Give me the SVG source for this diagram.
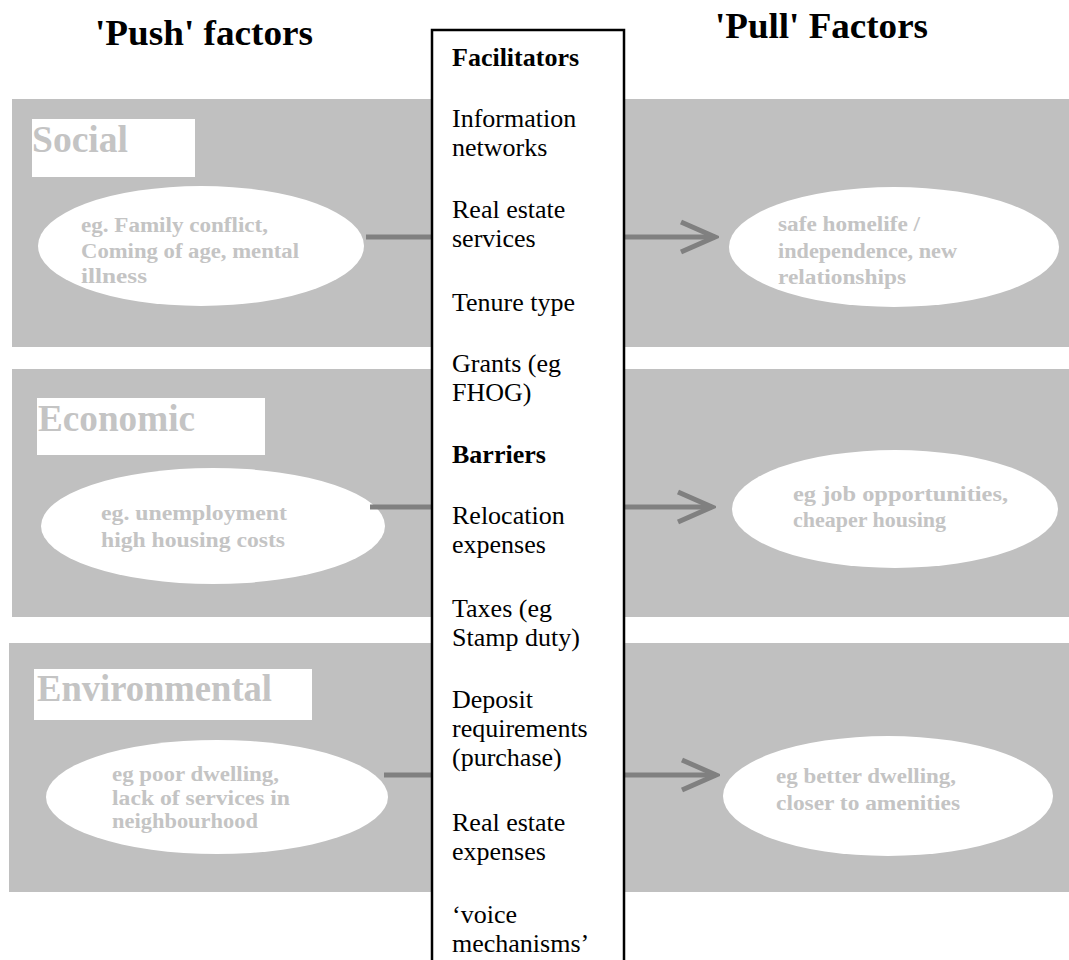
<svg xmlns="http://www.w3.org/2000/svg" width="1069" height="960" viewBox="0 0 1069 960">
<style>
.band{fill:#c0c0c0}
.lbl{fill:#ffffff}
.lt{font-family:"Liberation Serif",serif;font-weight:bold;font-size:38px;fill:#c4c4c4}
.ell{fill:#ffffff}
.et{font-family:"Liberation Serif",serif;font-weight:bold;font-size:20px;fill:#c4c4c4}
.title{font-family:"Liberation Serif",serif;font-weight:bold;font-size:35px;fill:#000000}
.bt{font-family:"Liberation Serif",serif;font-size:26px;fill:#000000}
.bb{font-weight:bold}
.conn{stroke:#808080;stroke-width:5;fill:none}
</style>
<defs>
<marker id="chev" viewBox="-40 -20 44 40" refX="0" refY="0" markerWidth="44" markerHeight="40" markerUnits="userSpaceOnUse" orient="auto">
<path d="M -34 -15 L 0 0 L -34 15" stroke="#808080" stroke-width="5" fill="none" stroke-linejoin="miter"/>
</marker>
</defs>
<rect width="1069" height="960" fill="#ffffff"/>
<g id="titles">
<text class="title" x="95" y="45" textLength="218" lengthAdjust="spacingAndGlyphs">'Push' factors</text>
<text class="title" x="715" y="38" textLength="213" lengthAdjust="spacingAndGlyphs">'Pull' Factors</text>
</g>
<g id="band-social">
<rect class="band" x="12" y="99" width="1057" height="248"/>
<rect class="lbl" x="32" y="119" width="163" height="58"/>
<text class="lt" x="32" y="152" textLength="96" lengthAdjust="spacingAndGlyphs">Social</text>
</g>
<g id="band-economic">
<rect class="band" x="12" y="369" width="1057" height="248"/>
<rect class="lbl" x="37" y="398" width="228" height="57"/>
<text class="lt" x="38" y="431" textLength="157" lengthAdjust="spacingAndGlyphs">Economic</text>
</g>
<g id="band-environmental">
<rect class="band" x="9" y="643" width="1060" height="249"/>
<rect class="lbl" x="34" y="669" width="278" height="51"/>
<text class="lt" x="37" y="701" textLength="235" lengthAdjust="spacingAndGlyphs">Environmental</text>
</g>
<g id="push-social">
<ellipse class="ell" cx="201" cy="246" rx="163" ry="60"/>
<text class="et" x="81" y="232" textLength="187" lengthAdjust="spacingAndGlyphs">eg. Family conflict,</text>
<text class="et" x="81" y="258" textLength="218" lengthAdjust="spacingAndGlyphs">Coming of age, mental</text>
<text class="et" x="81" y="283" textLength="66" lengthAdjust="spacingAndGlyphs">illness</text>
</g>
<g id="pull-social">
<ellipse class="ell" cx="894" cy="247" rx="165" ry="60"/>
<text class="et" x="778" y="231" textLength="142" lengthAdjust="spacingAndGlyphs">safe homelife /</text>
<text class="et" x="778" y="258" textLength="179" lengthAdjust="spacingAndGlyphs">independence, new</text>
<text class="et" x="778" y="284" textLength="128" lengthAdjust="spacingAndGlyphs">relationships</text>
</g>
<g id="push-economic">
<ellipse class="ell" cx="213" cy="526" rx="172" ry="58"/>
<text class="et" x="101" y="520" textLength="186" lengthAdjust="spacingAndGlyphs">eg. unemployment</text>
<text class="et" x="101" y="547" textLength="184" lengthAdjust="spacingAndGlyphs">high housing costs</text>
</g>
<g id="pull-economic">
<ellipse class="ell" cx="895" cy="509" rx="163" ry="59"/>
<text class="et" x="793" y="501" textLength="215" lengthAdjust="spacingAndGlyphs">eg job opportunities,</text>
<text class="et" x="793" y="527" textLength="153" lengthAdjust="spacingAndGlyphs">cheaper housing</text>
</g>
<g id="push-environmental">
<ellipse class="ell" cx="217" cy="797" rx="171" ry="57"/>
<text class="et" x="112" y="781" textLength="167" lengthAdjust="spacingAndGlyphs">eg poor dwelling,</text>
<text class="et" x="112" y="805" textLength="178" lengthAdjust="spacingAndGlyphs">lack of services in</text>
<text class="et" x="112" y="828" textLength="146" lengthAdjust="spacingAndGlyphs">neighbourhood</text>
</g>
<g id="pull-environmental">
<ellipse class="ell" cx="888" cy="796" rx="165" ry="60"/>
<text class="et" x="776" y="783" textLength="180" lengthAdjust="spacingAndGlyphs">eg better dwelling,</text>
<text class="et" x="776" y="810" textLength="184" lengthAdjust="spacingAndGlyphs">closer to amenities</text>
</g>
<g id="connectors">
<line class="conn" x1="366" y1="237" x2="715" y2="237" marker-end="url(#chev)"/>
<line class="conn" x1="370" y1="507" x2="712" y2="507" marker-end="url(#chev)"/>
<line class="conn" x1="384" y1="775" x2="716" y2="775" marker-end="url(#chev)"/>
</g>
<g id="factors-box">
<rect x="432" y="30" width="192" height="940" fill="#ffffff" stroke="#000000" stroke-width="2.5"/>
<text class="bt bb" x="452" y="66">Facilitators</text>
<text class="bt" x="452" y="127">Information</text>
<text class="bt" x="452" y="156">networks</text>
<text class="bt" x="452" y="218">Real estate</text>
<text class="bt" x="452" y="247">services</text>
<text class="bt" x="452" y="311">Tenure type</text>
<text class="bt" x="452" y="372">Grants (eg</text>
<text class="bt" x="452" y="401">FHOG)</text>
<text class="bt bb" x="452" y="463">Barriers</text>
<text class="bt" x="452" y="524">Relocation</text>
<text class="bt" x="452" y="553">expenses</text>
<text class="bt" x="452" y="617">Taxes (eg</text>
<text class="bt" x="452" y="646">Stamp duty)</text>
<text class="bt" x="452" y="708">Deposit</text>
<text class="bt" x="452" y="737">requirements</text>
<text class="bt" x="452" y="766">(purchase)</text>
<text class="bt" x="452" y="831">Real estate</text>
<text class="bt" x="452" y="860">expenses</text>
<text class="bt" x="452" y="923">‘voice</text>
<text class="bt" x="452" y="952">mechanisms’</text>
</g>
</svg>
